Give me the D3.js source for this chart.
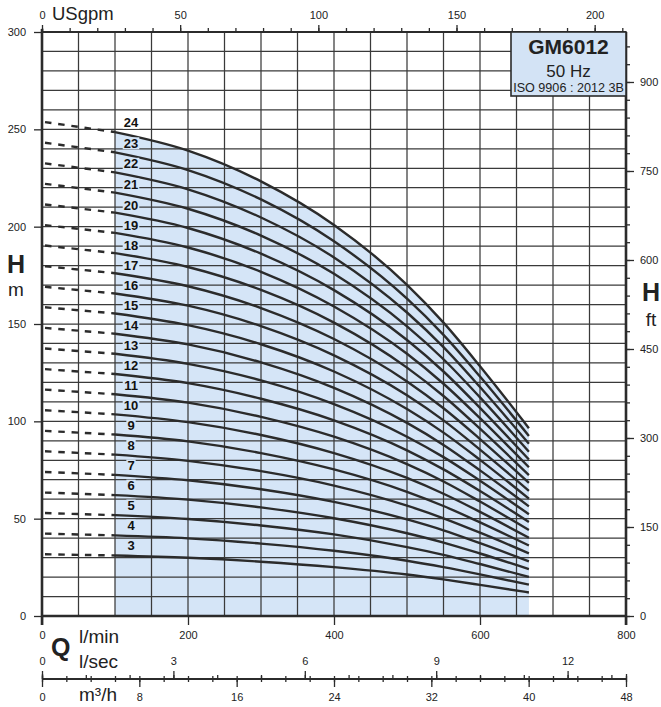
<!DOCTYPE html>
<html>
<head>
<meta charset="utf-8">
<script src="https://cdn.jsdelivr.net/npm/d3@7/dist/d3.min.js"></script>
<style>
  html, body { margin: 0; padding: 0; background: #fff; }
  svg { display: block; font-family: "Liberation Sans", Arial, Helvetica, sans-serif; }
</style>
</head>
<body>
<script>
// ---------------- DATA ----------------
const flowLpm = [0, 100, 200, 300, 400, 500, 550, 600, 667];
const stages = [3, 4, 5, 6, 7, 8, 9, 10, 11, 12, 13, 14, 15, 16, 17, 18, 19, 20, 21, 22, 23, 24];
const heads = [
  [31.7, 31.1, 29.9, 27.9, 25.1, 21.3, 18.8, 16.0, 12.1],
  [42.3, 41.4, 39.9, 37.2, 33.5, 28.4, 25.1, 21.4, 16.1],
  [52.9, 51.8, 49.8, 46.5, 41.9, 35.4, 31.4, 26.7, 20.1],
  [63.4, 62.1, 59.8, 55.8, 50.2, 42.5, 37.7, 32.1, 24.1],
  [74.0, 72.5, 69.7, 65.1, 58.6, 49.6, 44.0, 37.4, 28.1],
  [84.6, 82.9, 79.7, 74.4, 67.0, 56.7, 50.2, 42.8, 32.2],
  [95.1, 93.2, 89.7, 83.7, 75.3, 63.8, 56.5, 48.1, 36.2],
  [105.7, 103.6, 99.6, 93.0, 83.7, 70.9, 62.8, 53.5, 40.2],
  [116.3, 113.9, 109.6, 102.3, 92.1, 78.0, 69.1, 58.8, 44.2],
  [126.8, 124.3, 119.6, 111.6, 100.5, 85.1, 75.3, 64.2, 48.3],
  [137.4, 134.7, 129.5, 121.0, 108.8, 92.1, 81.6, 69.5, 52.3],
  [148.0, 145.0, 139.5, 130.3, 117.2, 99.2, 87.9, 74.8, 56.3],
  [158.6, 155.4, 149.4, 139.6, 125.6, 106.3, 94.2, 80.2, 60.3],
  [169.1, 165.7, 159.4, 148.9, 133.9, 113.4, 100.5, 85.5, 64.3],
  [179.7, 176.1, 169.4, 158.2, 142.3, 120.5, 106.7, 90.9, 68.4],
  [190.3, 186.4, 179.3, 167.5, 150.7, 127.6, 113.0, 96.2, 72.4],
  [200.8, 196.8, 189.3, 176.8, 159.0, 134.7, 119.3, 101.6, 76.4],
  [211.4, 207.2, 199.3, 186.1, 167.4, 141.8, 125.6, 106.9, 80.4],
  [222.0, 217.5, 209.2, 195.4, 175.8, 148.8, 131.9, 112.3, 84.4],
  [232.5, 227.9, 219.2, 204.7, 184.2, 155.9, 138.1, 117.6, 88.5],
  [243.1, 238.2, 229.1, 214.0, 192.5, 163.0, 144.4, 123.0, 92.5],
  [253.7, 248.6, 239.1, 223.3, 200.9, 170.1, 150.7, 128.3, 96.5]
];
const headTicksM = [0, 50, 100, 150, 200, 250, 300];
const headTicksFt = [0, 150, 300, 450, 600, 750, 900];
const flowTicksLpm = [0, 200, 400, 600, 800];
const flowTicksUsgpm = [0, 50, 100, 150, 200];
const flowTicksLps = [0, 3, 6, 9, 12];
const flowTicksM3h = [0, 8, 16, 24, 32, 40, 48];
const titleText = "GM6012";
const freqText = "50 Hz";
const normText = "ISO 9906 : 2012 3B";

// ---------------- LAYOUT ----------------
const W = 661, H = 707;
const L = 42, R = 626, T = 32, B = 616;
const ink = "#2b2b2b", gridC = "#3a3a3a", shade = "#d5e5f7";
const M_TO_FT = 3.28084, USG_TO_L = 3.785411784;

const svg = d3.select("body").append("svg").attr("width", W).attr("height", H);

const x = d3.scaleLinear().domain([0, 800]).range([L, R]);
const y = d3.scaleLinear().domain([0, 300]).range([B, T]);
const xg = d3.scaleLinear().domain([0, 800 / USG_TO_L]).range([L, R]);
const xs = d3.scaleLinear().domain([0, 800 / 60]).range([L, R]);
const xm = d3.scaleLinear().domain([0, 48]).range([L, R]);
const yf = d3.scaleLinear().domain([0, 300 * M_TO_FT]).range([B, T]);

const curveType = d3.curveMonotoneX;

// shaded operating area under the largest curve
const solidIdx = flowLpm.map((q, i) => i).filter(i => flowLpm[i] >= 100);
const topRow = heads[heads.length - 1];
const areaGen = d3.area()
  .x(i => x(flowLpm[i])).y0(y(0)).y1(i => y(topRow[i]))
  .curve(curveType);
svg.append("path").attr("d", areaGen(solidIdx)).attr("fill", shade);

// grid
const grid = svg.append("g").attr("stroke", gridC).attr("stroke-width", 1.25);
d3.range(50, 800, 50).forEach(v => grid.append("line")
  .attr("x1", x(v)).attr("x2", x(v)).attr("y1", T).attr("y2", B));
d3.range(10, 300, 10).forEach(v => grid.append("line")
  .attr("x1", L).attr("x2", R).attr("y1", y(v)).attr("y2", y(v)));

// curves
const cg = svg.append("g");
heads.forEach((row, k) => {
  const pts = solidIdx.map(i => [x(flowLpm[i]), y(row[i])]);
  cg.append("path")
    .attr("d", d3.line().curve(curveType)(pts))
    .attr("fill", "none").attr("stroke", ink).attr("stroke-width", 2.4);
  cg.append("line")
    .attr("x1", x(flowLpm[0]) + 3).attr("y1", y(row[0]))
    .attr("x2", x(flowLpm[1])).attr("y2", y(row[1]))
    .attr("stroke", ink).attr("stroke-width", 2.4)
    .attr("stroke-dasharray", "6.5,6.8");
});

// stage labels
const lg = svg.append("g");
heads.forEach((row, k) => {
  const qLab = 122;
  const hLab = row[1] + (row[2] - row[1]) * (qLab - 100) / 100;
  const cy = y(hLab) - 10.5 - Math.max(0, k - 16) * 0.6;
  const cx = 131;
  const t = String(stages[k]);
  const w = t.length * 7.3 + 2;
  lg.append("rect").attr("x", cx - w / 2).attr("y", cy - 6).attr("width", w).attr("height", 12)
    .attr("fill", k === heads.length - 1 ? "#fff" : shade);
  lg.append("text").attr("x", cx).attr("y", cy + 4.7)
    .attr("text-anchor", "middle").attr("font-size", 13).attr("font-weight", "bold")
    .attr("fill", "#111").text(t);
});

// frame
const fr = svg.append("g").attr("stroke", ink).attr("fill", "none");
fr.append("line").attr("x1", L).attr("x2", R).attr("y1", T).attr("y2", T).attr("stroke-width", 1.8);
fr.append("line").attr("x1", L).attr("x2", R).attr("y1", B).attr("y2", B).attr("stroke-width", 2.4);
fr.append("line").attr("x1", L).attr("x2", L).attr("y1", T - 3).attr("y2", B + 9).attr("stroke-width", 2.6);
fr.append("line").attr("x1", R).attr("x2", R).attr("y1", T).attr("y2", B + 9).attr("stroke-width", 2.6);

function styleAxis(g, fs) {
  g.select(".domain").remove();
  g.selectAll("line").attr("stroke", ink).attr("stroke-width", 1.3);
  g.selectAll("text").attr("font-size", fs).attr("fill", "#222")
    .attr("font-family", '"Liberation Sans", Arial, sans-serif');
}

// left axis (m)
svg.append("g").attr("transform", `translate(${L},0)`)
  .call(d3.axisLeft(y).tickValues(headTicksM).tickSize(8).tickPadding(8).tickFormat(d3.format("d")))
  .call(g => styleAxis(g, 11));

// right axis (ft)
svg.append("g").attr("transform", `translate(${R},0)`)
  .call(d3.axisRight(yf).tickValues(d3.range(0, 961, 30)).tickSize(4).tickFormat(""))
  .call(g => styleAxis(g, 11));
svg.append("g").attr("transform", `translate(${R},0)`)
  .call(d3.axisRight(yf).tickValues(headTicksFt).tickSize(8).tickPadding(6).tickFormat(d3.format("d")))
  .call(g => styleAxis(g, 11));

// top axis (USgpm)
svg.append("g").attr("transform", `translate(0,${T})`)
  .call(d3.axisTop(xg).tickValues(d3.range(0, 211, 10)).tickSize(4).tickFormat(""))
  .call(g => styleAxis(g, 11));
svg.append("g").attr("transform", `translate(0,${T})`)
  .call(d3.axisTop(xg).tickValues(flowTicksUsgpm).tickSize(7).tickPadding(6).tickFormat(d3.format("d")))
  .call(g => styleAxis(g, 11));

// bottom axis (l/min)
svg.append("g").attr("transform", `translate(0,${B})`)
  .call(d3.axisBottom(x).tickValues(flowTicksLpm).tickSize(9).tickPadding(6).tickFormat(d3.format("d")))
  .call(g => styleAxis(g, 11));

// secondary axis line (l/sec above, m3/h below)
const AY = 679;
svg.append("line").attr("x1", L).attr("x2", R).attr("y1", AY).attr("y2", AY)
  .attr("stroke", ink).attr("stroke-width", 1.8);
svg.append("g").attr("transform", `translate(0,${AY})`)
  .call(d3.axisTop(xs).tickValues(d3.range(0, 14, 1)).tickSize(4).tickFormat(""))
  .call(g => styleAxis(g, 11));
svg.append("g").attr("transform", `translate(0,${AY})`)
  .call(d3.axisTop(xs).tickValues(flowTicksLps).tickSize(8).tickPadding(6).tickFormat(d3.format("d")))
  .call(g => styleAxis(g, 11));
svg.append("g").attr("transform", `translate(0,${AY})`)
  .call(d3.axisBottom(xm).tickValues(d3.range(0, 49, 2)).tickSize(3).tickFormat(""))
  .call(g => { styleAxis(g, 11); g.selectAll("line").attr("y1", -3); });
svg.append("g").attr("transform", `translate(0,${AY})`)
  .call(d3.axisBottom(xm).tickValues(flowTicksM3h).tickSize(8).tickPadding(6).tickFormat(d3.format("d")))
  .call(g => { styleAxis(g, 11);
    g.selectAll(".tick").filter(d => d === 0 || d === 48).select("line").attr("y1", -5); });

// axis titles
const txt = (xx, yy, s, fs, bold, anchor) => svg.append("text")
  .attr("x", xx).attr("y", yy).attr("font-size", fs)
  .attr("font-weight", bold ? "bold" : "normal")
  .attr("text-anchor", anchor || "start").attr("fill", "#222").text(s);
txt(52, 20, "USgpm", 18.5, false);
txt(16, 273, "H", 25, true, "middle");
txt(16, 296, "m", 19, false, "middle");
txt(651, 301, "H", 25, true, "middle");
txt(651, 326, "ft", 19, false, "middle");
txt(51, 656, "Q", 25, true);
txt(79, 643, "l/min", 19, false);
txt(79, 668, "l/sec", 19, false);
txt(79, 701, "m³/h", 19, false);

// title box
svg.append("rect").attr("x", 511).attr("y", T).attr("width", R - 511).attr("height", 64)
  .attr("fill", "#d3e3f5").attr("stroke", ink).attr("stroke-width", 1.6);
txt(568.5, 53.5, titleText, 21, true, "middle");
txt(568.5, 77, freqText, 17, false, "middle");
txt(568.5, 91.5, normText, 12.6, false, "middle");
</script>
</body>
</html>
